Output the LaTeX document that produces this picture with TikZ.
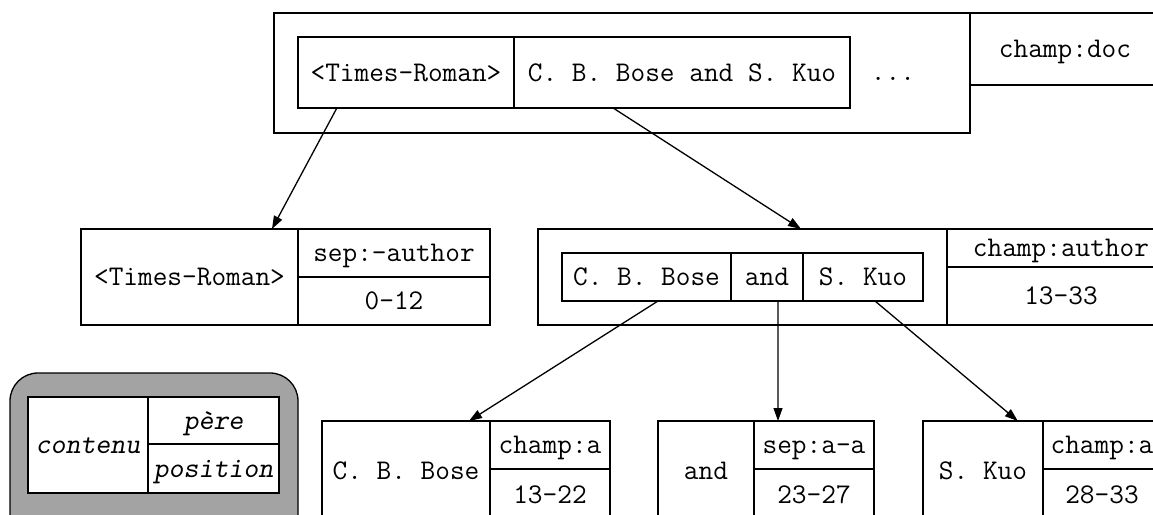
\documentclass[tikz,border=0pt]{standalone}
\usepackage{fontspec}
\usetikzlibrary{calc,arrows.meta}
\newcommand\mycell[7][cellst]{%
  \node[#1, minimum width={(#5-#3)*1pt}, minimum height={(#6-#4)*1pt}]
    (#2) at ({(#3+#5)/2},{(#4+#6)/2}) {#7};}
\begin{document}
\begin{tikzpicture}[x=1pt,y=-1pt,
  cellst/.style={draw, line width=1.3pt, inner sep=0pt, outer sep=0pt,
    text height=17pt, text depth=0pt, font=\fontsize{28.5}{32}\selectfont\ttfamily},
  legcell/.style={cellst, fill=white, font=\fontsize{28.5}{32}\selectfont\ttfamily\slshape},
  legbox/.style={draw, line width=1.3pt, fill=black!36, rounded corners=28pt, inner sep=0pt, outer sep=0pt},
  conn/.style={line width=1.3pt, -{Triangle[length=13pt,width=9pt]}},
]
\useasboundingbox (0,0) rectangle (1153,514);
\fill[white] (0,0) rectangle (1153,514);
\begin{scope}
\clip (0,0) rectangle (1153,514);
% top record
\mycell{doc}{274}{13}{970}{133}{}
\mycell{doclab}{970}{13}{1160}{85}{champ:doc}
\mycell{t1}{298}{37}{514}{108}{<Times-Roman>}
\mycell{t2}{514}{37}{850}{108}{C. B. Bose and S. Kuo}
\node[cellst, draw=none] (dots) at (893,72) {...};
% row 2 left
\mycell{a1}{81}{229}{298}{325}{<Times-Roman>}
\mycell{a2}{298}{229}{490}{277}{sep:-author}
\mycell{a3}{298}{277}{490}{325}{0-12}
% row 2 right
\mycell{b}{538}{229}{947}{325}{}
\mycell{b1}{562}{253}{731}{301}{C. B. Bose}
\mycell{b2}{731}{253}{803}{301}{and}
\mycell{b3}{803}{253}{923}{301}{S. Kuo}
\mycell{blab}{947}{229}{1175}{267}{champ:author}
\mycell{bpos}{947}{267}{1175}{325}{13-33}
% row 3
\mycell{c1}{322}{421}{490}{520}{C. B. Bose}
\mycell{c2}{490}{421}{610}{469}{champ:a}
\mycell{c3}{490}{469}{610}{521}{13-22}
\mycell{d1}{658}{421}{754}{520}{and}
\mycell{d2}{754}{421}{874}{469}{sep:a-a}
\mycell{d3}{754}{469}{874}{521}{23-27}
\mycell{e1}{923}{421}{1043}{520}{S. Kuo}
\mycell{e2}{1043}{421}{1161}{469}{champ:a}
\mycell{e3}{1043}{469}{1161}{521}{28-33}
% legend
\mycell[legbox]{legend}{10}{373}{298}{560}{}
\mycell[legcell]{l1}{28}{397}{148}{493}{contenu}
\mycell[legcell]{l2}{148}{397}{279}{444}{père}
\mycell[legcell]{l3}{148}{444}{279}{493}{position}
% connectors
\draw[conn] ($(t1.south west)!0.18!(t1.south east)$) -- ($(a1.north west)!0.88!(a1.north east)$);
\draw[conn] ($(t2.south west)!0.295!(t2.south east)$) -- ($(b.north west)!0.643!(b.north east)$);
\draw[conn] ($(b1.south west)!0.568!(b1.south east)$) -- ($(c1.north west)!0.875!(c1.north east)$);
\draw[conn] ($(b2.south west)!0.653!(b2.south east)$) -- ($(d2.north west)!0.2!(d2.north east)$);
\draw[conn] ($(b3.south west)!0.6!(b3.south east)$) -- ($(e1.north west)!0.79!(e1.north east)$);
\end{scope}
\end{tikzpicture}
\end{document}
